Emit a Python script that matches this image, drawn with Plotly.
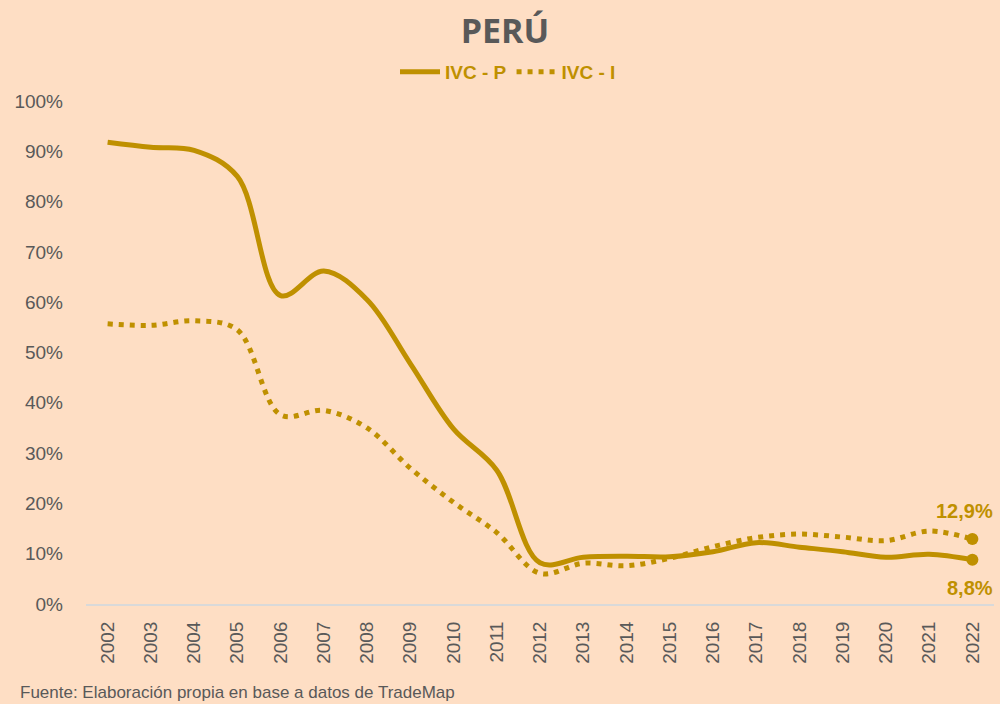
import plotly.graph_objects as go

years = list(range(2002, 2023))
ivc_p = [91.8, 90.8, 90.2, 85.0, 61.3, 66.2, 60.5, 47.8, 34.8, 26.6, 8.2,
         9.3, 9.5, 9.4, 10.4, 12.2, 11.3, 10.4, 9.3, 9.9, 8.8]
ivc_i = [55.7, 55.4, 56.3, 54.5, 37.6, 38.5, 35.0, 27.0, 20.2, 14.2, 6.1,
         8.1, 7.6, 9.1, 11.4, 13.2, 13.9, 13.3, 12.6, 14.5, 12.9]
y_ticks = list(range(0, 101, 10))

GOLD = "#BF9000"
GRAY = "#595959"
BG = "#FEDEC4"
FONT = "Liberation Sans"

fig = go.Figure()
fig.add_trace(go.Scatter(
    x=years, y=ivc_p, name="IVC - P", mode="lines",
    line=dict(color=GOLD, width=5, shape="spline", smoothing=1.0)))
fig.add_trace(go.Scatter(
    x=years, y=ivc_i, name="IVC - I", mode="lines",
    line=dict(color=GOLD, width=5, shape="spline", smoothing=1.0, dash="5px,6px")))
# end markers
fig.add_trace(go.Scatter(
    x=[years[-1], years[-1]], y=[ivc_i[-1], ivc_p[-1]], mode="markers",
    marker=dict(color=GOLD, size=12), showlegend=False))

def fmt(v):
    return f"{v:.1f}%".replace(".", ",")

fig.add_annotation(x=years[-1], y=ivc_i[-1], text=fmt(ivc_i[-1]), showarrow=False,
                   xanchor="center", yanchor="bottom", yshift=15, xshift=-8,
                   font=dict(family=FONT, size=20, color=GOLD, weight="bold"))
fig.add_annotation(x=years[-1], y=ivc_p[-1], text=fmt(ivc_p[-1]), showarrow=False,
                   xanchor="center", yanchor="top", yshift=-15, xshift=-2,
                   font=dict(family=FONT, size=20, color=GOLD, weight="bold"))

fig.add_annotation(xref="paper", yref="paper", x=-68/908, y=-(692 - 604) / 503,
                   xanchor="left", yanchor="middle", showarrow=False,
                   text="Fuente: Elaboración propia en base a datos de TradeMap",
                   font=dict(family=FONT, size=17, color=GRAY))

fig.update_layout(
    width=1000, height=704,
    paper_bgcolor=BG, plot_bgcolor=BG,
    margin=dict(l=86, r=6, t=101, b=100, autoexpand=False),
    title=dict(text="<b>PERÚ</b>", x=0.505, xanchor="center", xref="container",
               y=1 - 31 / 704, yref="container", yanchor="middle",
               font=dict(family="Open Sans", size=34, color=GRAY)),
    legend=dict(orientation="h", x=0.508, xref="container", xanchor="center",
                y=1 - 72 / 704, yref="container", yanchor="middle",
                font=dict(family=FONT, size=19, color=GOLD, weight="bold"),
                bgcolor="rgba(0,0,0,0)", itemwidth=40),
    showlegend=True,
)
fig.update_xaxes(range=[2001.5, 2022.5], tickvals=years, ticktext=[str(y) for y in years],
                 tickangle=-90, showgrid=False, zeroline=False,
                 showline=True, linecolor="#D9D9D9", linewidth=2,
                 ticks="", ticklabelstandoff=8, automargin=False,
                 tickfont=dict(family=FONT, size=19, color=GRAY))
fig.update_yaxes(range=[0, 100], tickvals=y_ticks, ticktext=[f"{t}%" for t in y_ticks],
                 showgrid=False, zeroline=False, showline=False, ticks="",
                 ticklabelstandoff=22, automargin=False,
                 tickfont=dict(family=FONT, size=19, color=GRAY))

fig.write_html("out.html", config={"displayModeBar": False},
               post_script="document.body.style.margin='0';"
                           "document.body.style.background='" + BG + "';")
